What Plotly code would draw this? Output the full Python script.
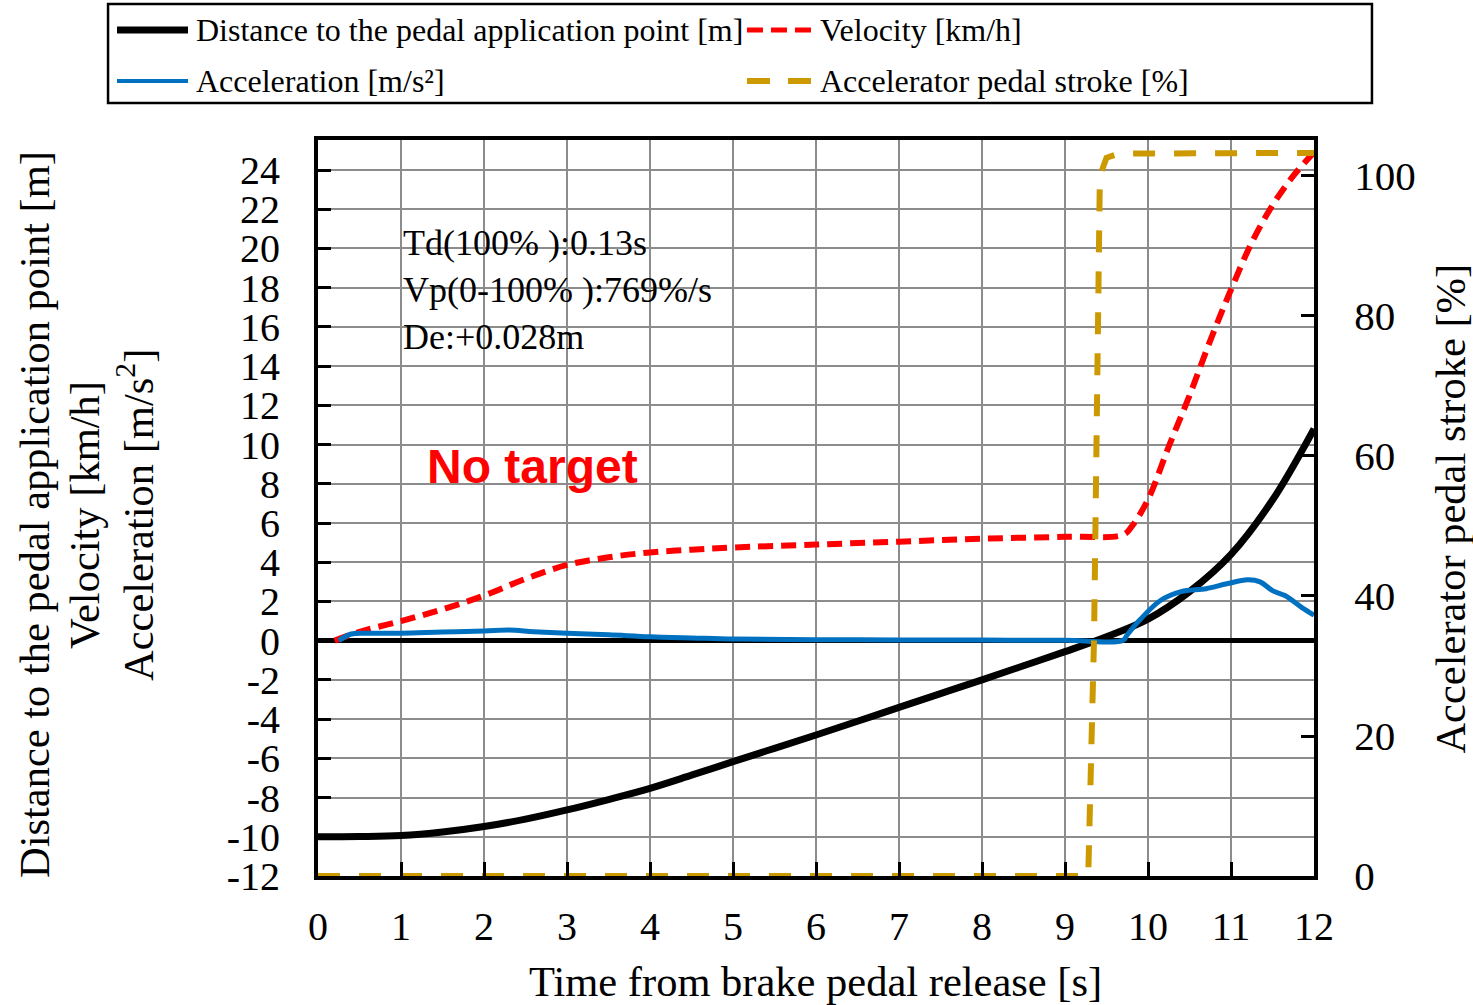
import plotly.graph_objects as go

# time axis [s] and series
dist_t = [0, 0.5, 1, 1.5, 2, 2.5, 3, 3.5, 4, 4.5, 5, 5.5, 6, 6.5, 7, 7.5, 8, 8.5, 9, 9.5, 10, 10.5, 11, 11.5, 12]
dist_m = [-10.0, -9.99, -9.94, -9.76, -9.48, -9.1, -8.63, -8.1, -7.53, -6.86, -6.17, -5.49, -4.81, -4.11, -3.4,
          -2.7, -2.0, -1.28, -0.56, 0.2, 1.1, 2.5, 4.4, 7.17, 10.8]

vel_t = [0.2, 0.5, 1, 1.5, 2, 2.5, 3, 3.5, 4, 4.5, 5, 6, 7, 8, 9, 9.7, 9.8, 10, 10.25, 10.5, 10.75, 11,
         11.25, 11.5, 11.75, 12]
vel_kmh = [0, 0.45, 1.0, 1.6, 2.3, 3.15, 3.86, 4.25, 4.5, 4.64, 4.75, 4.9, 5.05, 5.2, 5.3, 5.4, 5.8, 7.2,
           9.9, 12.5, 15.3, 17.9, 20.3, 22.2, 23.7, 24.9]

acc_t = [0.25, 0.4, 0.6, 1, 1.5, 2, 2.3, 2.6, 3, 3.5, 4, 4.5, 5, 6, 7, 8, 9, 9.7, 9.75, 9.9, 10.15, 10.4,
         10.7, 10.95, 11.2, 11.35, 11.5, 11.65, 11.85, 12]
acc_ms2 = [0, 0.34, 0.38, 0.38, 0.44, 0.49, 0.54, 0.46, 0.38, 0.3, 0.2, 0.14, 0.08, 0.05, 0.04, 0.03, 0.02,
           0.02, 0.3, 1.05, 2.05, 2.5, 2.65, 2.9, 3.1, 3.0, 2.55, 2.3, 1.7, 1.3]

pedal_t = [0, 9.28, 9.35, 9.40, 9.42, 9.5, 9.65, 12]
pedal_pct = [0, 0, 34, 87, 100, 102.6, 103.2, 103.3]

x_ticks = list(range(0, 13))
left_ticks = list(range(-12, 25, 2))
right_ticks = [0, 20, 40, 60, 80, 100]

info_lines = ["Td(100% ):0.13s", "Vp(0-100% ):769%/s", "De:+0.028m"]
left_title = ["Distance to the pedal application point [m]", "Velocity [km/h]",
              "Acceleration [m/s<sup>2</sup>]"]

SERIF = "Liberation Serif, Times New Roman, serif"
GRID = "#8c8c8c"

series = [
    dict(name="Distance to the pedal application point [m]", x=dist_t, y=dist_m, yaxis="y",
         line=dict(color="black", width=7, shape="spline")),
    dict(name="Velocity [km/h]", x=vel_t, y=vel_kmh, yaxis="y",
         line=dict(color="#ff0000", width=6, dash="15px,8px", shape="spline")),
    dict(name="Acceleration [m/s²]", x=acc_t, y=acc_ms2, yaxis="y",
         line=dict(color="#0070c0", width=5, shape="spline")),
    dict(name="Accelerator pedal stroke [%]", x=pedal_t, y=pedal_pct, yaxis="y2",
         line=dict(color="#cc9900", width=6, dash="22px,19px")),
]

fig = go.Figure()
for s in series:
    fig.add_trace(go.Scatter(mode="lines", showlegend=False, **s))

# legend drawn by hand: two columns, framed box above the plot
fig.add_shape(type="rect", xref="paper", yref="paper", x0=-0.2108, x1=1.0582, y0=1.0503, y1=1.1848,
              line=dict(color="black", width=2.5), fillcolor="white")
legend_slots = [(-0.2018, -0.1305, 1.1495), (0.4307, 0.4960, 1.1495),
                (-0.2018, -0.1305, 1.0802), (0.4307, 0.4960, 1.0802)]
legend_dash = ["solid", "16px,8px", "solid", "23px,18px"]
legend_width = [7, 5, 4, 6]
for s, (x0, x1, y), dash, w in zip(series, legend_slots, legend_dash, legend_width):
    fig.add_shape(type="line", xref="paper", yref="paper", x0=x0, x1=x1, y0=y, y1=y,
                  line=dict(color=s["line"]["color"], width=w, dash=dash))
    fig.add_annotation(xref="paper", yref="paper", x=x1 + 0.006, y=y, xanchor="left", yanchor="middle",
                       text=s["name"], showarrow=False, font=dict(family=SERIF, size=32, color="black"))

# white box behind the measurement text
fig.add_shape(type="rect", xref="paper", yref="paper", x0=0.0622, x1=0.4468, y0=0.664, y1=0.905,
              fillcolor="white", line_width=0, layer="between")
fig.add_annotation(
    xref="paper", yref="paper", x=0.083, y=0.796, xanchor="left", yanchor="middle", align="left",
    text="<br>".join(info_lines), showarrow=False, font=dict(family=SERIF, size=36, color="black"),
)
fig.add_annotation(
    xref="paper", yref="paper", x=0.2149, y=0.557, xanchor="center", yanchor="middle",
    text="<b>No target</b>", showarrow=False,
    font=dict(family="Liberation Sans, Arial, sans-serif", size=48, color="#ff0000"),
)

# axis titles
for line, xp in zip(left_title, [-0.2841, -0.2339, -0.1837]):
    fig.add_annotation(xref="paper", yref="paper", x=xp, y=0.4905, xanchor="center", yanchor="middle",
                       text=line, textangle=-90, showarrow=False, font=dict(family=SERIF, size=42.5))
fig.add_annotation(xref="paper", yref="paper", x=1.1366, y=0.4993, xanchor="center", yanchor="middle",
                   text="Accelerator pedal stroke [%]", textangle=-90, showarrow=False,
                   font=dict(family=SERIF, size=42.5))
fig.add_annotation(xref="paper", yref="paper", x=0.499, y=-0.144, xanchor="center", yanchor="middle",
                   text="Time from brake pedal release [s]", showarrow=False,
                   font=dict(family=SERIF, size=42.5))

fig.update_layout(
    width=1473, height=1005,
    margin=dict(l=318, r=159, t=140, b=129),
    paper_bgcolor="white", plot_bgcolor="white",
    font=dict(family=SERIF, color="black"),
    showlegend=False,
    xaxis=dict(
        range=[0, 12], tickvals=x_ticks, ticktext=[str(v) for v in x_ticks],
        ticks="inside", ticklen=14, tickwidth=3, tickcolor="black",
        showline=True, linecolor="black", linewidth=4, mirror=True,
        showgrid=True, gridcolor=GRID, gridwidth=2, zeroline=False,
        tickfont=dict(size=40), ticklabelstandoff=12, automargin=False,
    ),
    yaxis=dict(
        range=[-12, 25.53], tickvals=left_ticks, ticktext=[str(v) for v in left_ticks],
        ticks="inside", ticklen=13, tickwidth=3, tickcolor="black",
        showline=True, linecolor="black", linewidth=4, mirror=True,
        showgrid=True, gridcolor=GRID, gridwidth=2,
        zeroline=True, zerolinecolor="black", zerolinewidth=5,
        tickfont=dict(size=40), ticklabelstandoff=26, automargin=False,
    ),
    yaxis2=dict(
        overlaying="y", side="right", range=[0, 105.14], tickvals=right_ticks,
        ticks="inside", ticklen=13, tickwidth=3, tickcolor="black",
        showline=True, linecolor="black", linewidth=4, showgrid=False, zeroline=False,
        tickfont=dict(size=41), ticklabelstandoff=28, automargin=False,
    ),
)

# drop the browser's default 8px body margin so the figure fills the window exactly
fig.write_html("out.html", config={"displayModeBar": False},
               post_script="document.body.style.margin = '0';")
